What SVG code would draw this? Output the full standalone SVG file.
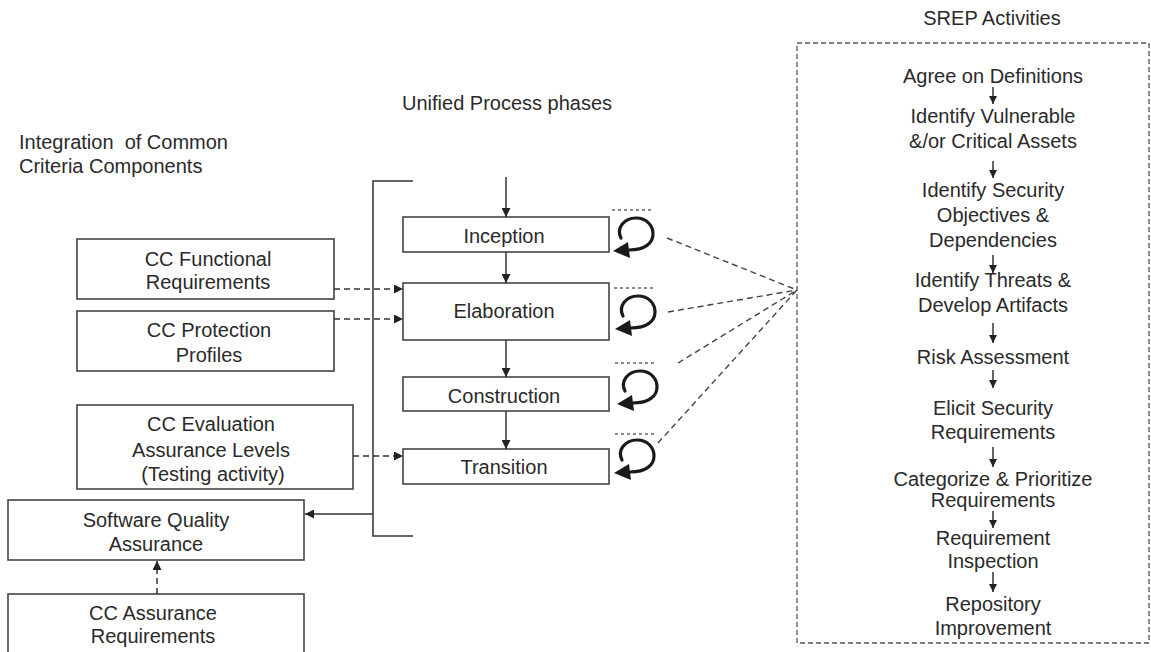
<svg xmlns="http://www.w3.org/2000/svg" width="1151" height="652" viewBox="0 0 1151 652">
<style>
text{font-family:"Liberation Sans",Arial,sans-serif;font-size:20px;fill:#2a2a2a}
.c{text-anchor:middle}
.box{fill:#fff;stroke:#444;stroke-width:1.6}
.ln{fill:none;stroke:#333;stroke-width:1.5}
.dash{fill:none;stroke:#333;stroke-width:1.5;stroke-dasharray:6 4}
.conv{fill:none;stroke:#444;stroke-width:1.4;stroke-dasharray:6 4}
.dot{fill:none;stroke:#666;stroke-width:1.3;stroke-dasharray:3 3}
.loop{fill:none;stroke:#1a1a1a;stroke-width:3.2;stroke-linecap:round}
.srep{fill:none;stroke:#555;stroke-width:1.3;stroke-dasharray:5 3}
</style>
<defs>
<marker id="arr" viewBox="0 0 10 10" refX="10" refY="5" markerWidth="10" markerHeight="9" markerUnits="userSpaceOnUse" orient="auto">
<path d="M0,0 L10,5 L0,10 z" fill="#222"/>
</marker>
<marker id="sarr" viewBox="0 0 10 10" refX="10" refY="5" markerWidth="9" markerHeight="8" markerUnits="userSpaceOnUse" orient="auto">
<path d="M0,0 L10,5 L0,10 z" fill="#222"/>
</marker>
<g id="loopsym">
<path class="loop" d="M -14,4 C -19,-6 -11,-16 1,-16 C 12,-16 18,-8 18,0 C 18,9 10,16 -6,16"/>
<polygon points="-22,17 -7,8 -5,24" fill="#1a1a1a"/>
</g>
</defs>

<g id="titles">
<text x="19" y="149" xml:space="preserve" style="white-space:pre">Integration  of Common</text>
<text x="19" y="173">Criteria Components</text>
<text x="402" y="110">Unified Process phases</text>
<text class="c" x="992" y="25">SREP Activities</text>
</g>

<g id="cc-functional">
<rect class="box" x="77" y="239" width="257" height="60"/>
<text class="c" x="208" y="266">CC Functional</text>
<text class="c" x="208" y="289">Requirements</text>
</g>
<g id="cc-protection">
<rect class="box" x="77" y="311" width="257" height="60"/>
<text class="c" x="209" y="337">CC Protection</text>
<text class="c" x="209" y="362">Profiles</text>
</g>
<g id="cc-evaluation">
<rect class="box" x="77" y="405" width="276" height="84"/>
<text class="c" x="211" y="431">CC Evaluation</text>
<text class="c" x="211" y="457">Assurance Levels</text>
<text class="c" x="213" y="481">(Testing activity)</text>
</g>
<g id="sqa">
<rect class="box" x="8" y="500" width="296" height="60"/>
<text class="c" x="156" y="527">Software Quality</text>
<text class="c" x="156" y="551">Assurance</text>
</g>
<g id="cc-assurance">
<rect class="box" x="8" y="594" width="296" height="70"/>
<text class="c" x="153" y="620">CC Assurance</text>
<text class="c" x="153" y="643">Requirements</text>
</g>

<g id="inception">
<rect class="box" x="403" y="217" width="206" height="35"/>
<text class="c" x="504" y="243">Inception</text>
</g>
<g id="elaboration">
<rect class="box" x="403" y="283" width="206" height="57"/>
<text class="c" x="504" y="318">Elaboration</text>
</g>
<g id="construction">
<rect class="box" x="403" y="377" width="206" height="34"/>
<text class="c" x="504" y="403">Construction</text>
</g>
<g id="transition">
<rect class="box" x="403" y="449" width="206" height="35"/>
<text class="c" x="504" y="474">Transition</text>
</g>

<g id="srep">
<rect class="srep" x="797" y="43" width="352" height="600"/>
<text class="c" x="993" y="83">Agree on Definitions</text>
<text class="c" x="993" y="123">Identify Vulnerable</text>
<text class="c" x="993" y="148">&amp;/or Critical Assets</text>
<text class="c" x="993" y="197">Identify Security</text>
<text class="c" x="993" y="222">Objectives &amp;</text>
<text class="c" x="993" y="247">Dependencies</text>
<text class="c" x="993" y="287">Identify Threats &amp;</text>
<text class="c" x="993" y="312">Develop Artifacts</text>
<text class="c" x="993" y="364">Risk Assessment</text>
<text class="c" x="993" y="415">Elicit Security</text>
<text class="c" x="993" y="439">Requirements</text>
<text class="c" x="993" y="486">Categorize &amp; Prioritize</text>
<text class="c" x="993" y="507">Requirements</text>
<text class="c" x="993" y="545">Requirement</text>
<text class="c" x="993" y="568">Inspection</text>
<text class="c" x="993" y="611">Repository</text>
<text class="c" x="993" y="635">Improvement</text>
</g>

<g id="connectors">
<line class="ln" x1="506" y1="177" x2="506" y2="217" marker-end="url(#arr)"/>
<line class="ln" x1="506" y1="252" x2="506" y2="283" marker-end="url(#arr)"/>
<line class="ln" x1="506" y1="340" x2="506" y2="377" marker-end="url(#arr)"/>
<line class="ln" x1="506" y1="411" x2="506" y2="449" marker-end="url(#arr)"/>
<path class="ln" d="M413,181 H373 V536 H413"/>
<line class="ln" x1="373" y1="514" x2="305" y2="514" marker-end="url(#arr)"/>
<line class="dash" x1="334" y1="289" x2="403" y2="289" marker-end="url(#arr)"/>
<line class="dash" x1="334" y1="319" x2="403" y2="319" marker-end="url(#arr)"/>
<line class="dash" x1="353" y1="456" x2="403" y2="456" marker-end="url(#arr)"/>
<line class="dash" x1="157" y1="594" x2="157" y2="561" marker-end="url(#arr)"/>
<line class="dot" x1="612" y1="210" x2="653" y2="210"/>
<line class="dot" x1="614" y1="288" x2="655" y2="288"/>
<line class="dot" x1="615" y1="363" x2="656" y2="363"/>
<line class="dot" x1="615" y1="434" x2="656" y2="434"/>
<use href="#loopsym" transform="translate(635,234)"/>
<use href="#loopsym" transform="translate(637,312)"/>
<use href="#loopsym" transform="translate(639,387)"/>
<use href="#loopsym" transform="translate(636,456)"/>
<line class="conv" x1="667" y1="238" x2="797" y2="290"/>
<line class="conv" x1="668" y1="312" x2="797" y2="290"/>
<line class="conv" x1="678" y1="363" x2="797" y2="290"/>
<line class="conv" x1="658" y1="443" x2="797" y2="290"/>
<line class="ln" x1="993" y1="87" x2="993" y2="104" marker-end="url(#sarr)"/>
<line class="ln" x1="993" y1="161" x2="993" y2="178" marker-end="url(#sarr)"/>
<line class="ln" x1="993" y1="255" x2="993" y2="273" marker-end="url(#sarr)"/>
<line class="ln" x1="993" y1="323" x2="993" y2="343" marker-end="url(#sarr)"/>
<line class="ln" x1="993" y1="370" x2="993" y2="388" marker-end="url(#sarr)"/>
<line class="ln" x1="993" y1="447" x2="993" y2="467" marker-end="url(#sarr)"/>
<line class="ln" x1="993" y1="511" x2="993" y2="528" marker-end="url(#sarr)"/>
<line class="ln" x1="993" y1="572" x2="993" y2="592" marker-end="url(#sarr)"/>
</g>
</svg>
